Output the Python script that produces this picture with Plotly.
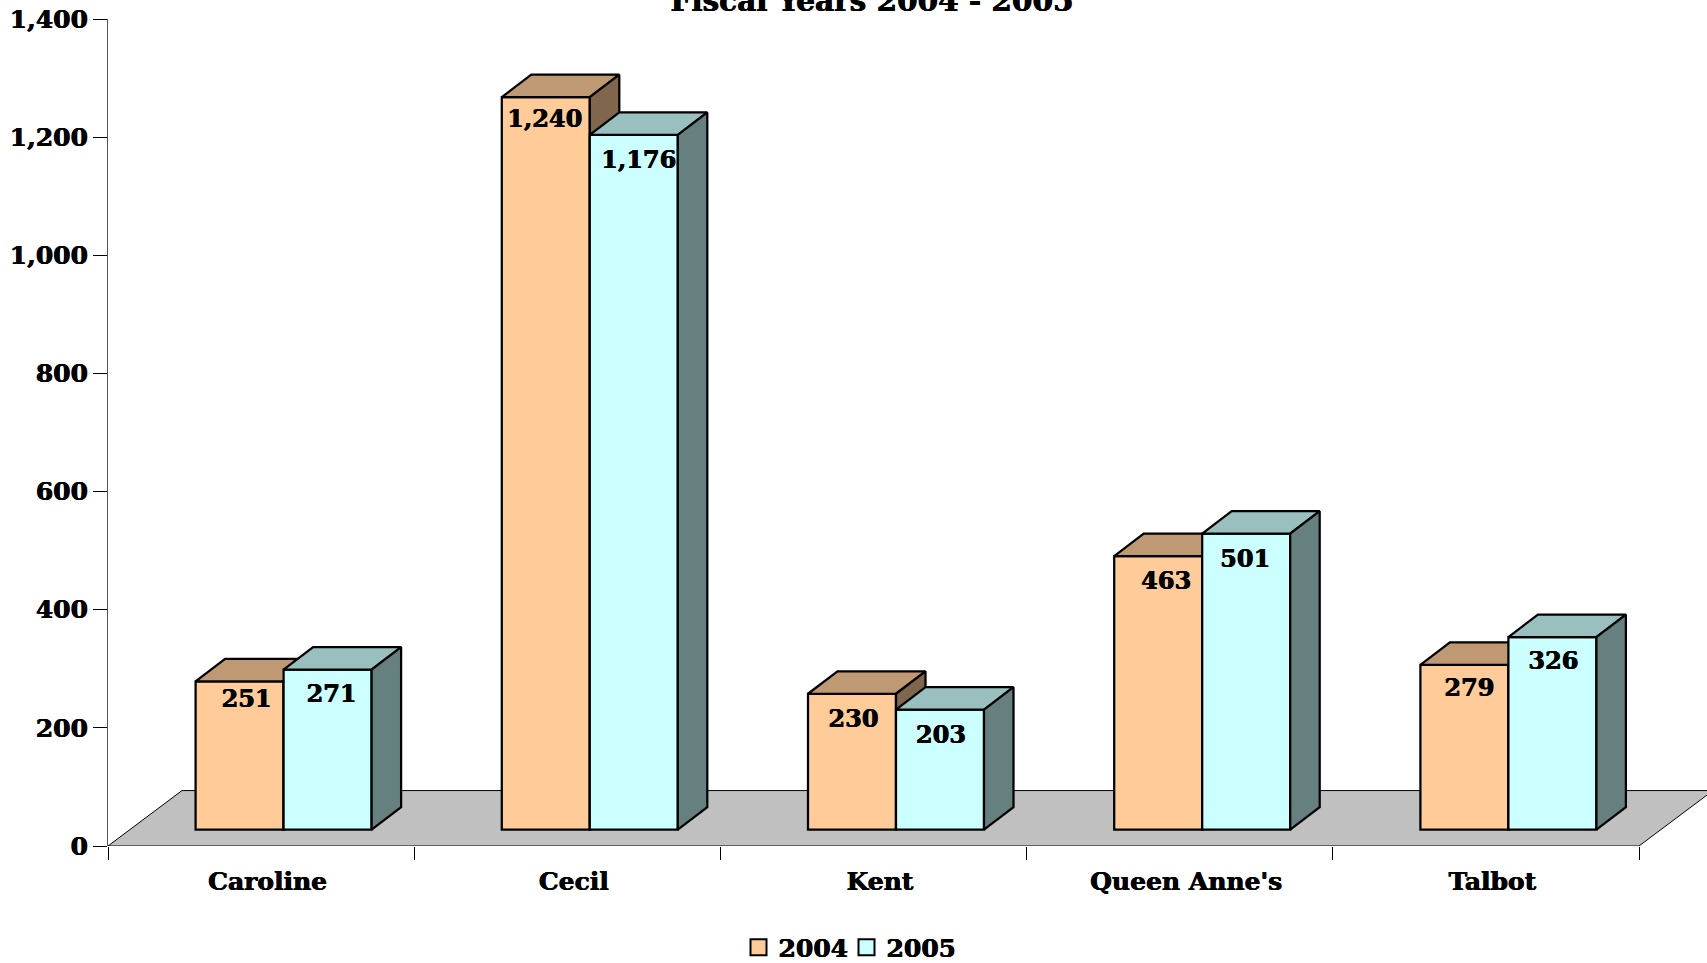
import plotly.graph_objects as go

categories = ["Caroline", "Cecil", "Kent", "Queen Anne's", "Talbot"]
series_names = ["2004", "2005"]
values_2004 = [251, 1240, 230, 463, 279]
values_2005 = [271, 1176, 203, 501, 326]
y_ticks = [0, 200, 400, 600, 800, 1000, 1200, 1400]
title_text = "Fiscal Years 2004 - 2005"

FONT = "DejaVu Serif"
FRONT = ["#FFCC99", "#CCFFFF"]
TOP = ["#BF9973", "#99BFBF"]
SIDE = ["#80664D", "#668080"]
HEAVY = "0.4px 0 0 #000, -0.4px 0 0 #000"

W, H = 1707, 963
L, R_PX, T, B = 108, 1639, 18.5, 846.5
ncat = len(categories)
cat_px = (R_PX - L) / ncat
unit_px = (B - T) / 1400
xr = (-0.5, -0.5 + (W - L) / cat_px)

dx = 29.5 / cat_px
dy = 22.5 / unit_px
floor_dx = 74 / cat_px
floor_dy = 55.5 / unit_px
bar_base = 16.4 / unit_px
bar_w = 88.0 / cat_px
group_shift = 22.5 / cat_px
label_shift = 6.5 / cat_px
edge = 2.25

fig = go.Figure()

label_nudge = [
    [(7, -20), (-1, -23.5), (1.5, -27), (8, -27), (5, -25)],
    [(4, -26), (5, -27), (1, -27), (-1, -27), (1, -26)],
]

for s, vals in enumerate([values_2004, values_2005]):
    xa = "x" if s == 0 else "x2"
    ya = "y" if s == 0 else "y2"
    centers = [i + group_shift + (s - 0.5) * bar_w for i in range(ncat)]
    fig.add_trace(go.Bar(
        x=centers, y=vals, base=bar_base, width=bar_w, name=series_names[s],
        marker=dict(color=FRONT[s], line=dict(color="#000000", width=edge)),
        xaxis=xa, yaxis=ya, hoverinfo="skip", showlegend=False,
    ))
    fig.add_trace(go.Scatter(
        x=[None], y=[None], mode="markers", name=series_names[s],
        marker=dict(symbol="square", size=16, color=FRONT[s], line=dict(color="#000000", width=2)),
        xaxis=xa, yaxis=ya, hoverinfo="skip", showlegend=True))
    for c, v in zip(centers, vals):
        x0, x1 = c - bar_w / 2, c + bar_w / 2
        y0, y1 = bar_base, bar_base + v
        fig.add_trace(go.Scatter(
            x=[x0, x0 + dx, x1 + dx, x1, x0], y=[y1, y1 + dy, y1 + dy, y1, y1],
            mode="lines", fill="toself", fillcolor=TOP[s],
            line=dict(color="#000000", width=edge), xaxis=xa, yaxis=ya,
            showlegend=False, hoverinfo="skip"))
        fig.add_trace(go.Scatter(
            x=[x1, x1 + dx, x1 + dx, x1, x1], y=[y0, y0 + dy, y1 + dy, y1, y0],
            mode="lines", fill="toself", fillcolor=SIDE[s],
            line=dict(color="#000000", width=edge), xaxis=xa, yaxis=ya,
            showlegend=False, hoverinfo="skip"))
    fig.add_trace(go.Scatter(
        x=[c + n[0] / cat_px for c, n in zip(centers, label_nudge[s])],
        y=[bar_base + v + n[1] / unit_px for v, n in zip(vals, label_nudge[s])],
        text=[f"{v:,}" for v in vals], mode="text", textposition="middle center",
        textfont=dict(family=FONT, size=24, color="#000000", weight="bold", shadow=HEAVY),
        xaxis=xa, yaxis=ya, showlegend=False, hoverinfo="skip"))

floor_x = [-0.5, ncat - 0.5, ncat - 0.5 + floor_dx, -0.5 + floor_dx]
floor_y = [0, 0, floor_dy, floor_dy]
fig.add_shape(type="path", xref="x", yref="y", layer="below",
              path="M " + " L ".join(f"{a},{b}" for a, b in zip(floor_x, floor_y)) + " Z",
              fillcolor="#C0C0C0", line=dict(color="#000000", width=1))

tick_font = dict(family=FONT, size=25, color="#000000", weight="bold", shadow=HEAVY)
fig.update_layout(
    width=W, height=H, autosize=False, paper_bgcolor="#FFFFFF", plot_bgcolor="#FFFFFF",
    margin=dict(l=L, r=0, t=T, b=H - B, autoexpand=False),
    barmode="overlay",
    font=dict(family=FONT, color="#000000"),
    title=dict(text=title_text, x=872 / W, xanchor="center", y=0.999, yanchor="middle",
               yref="container", font=dict(family=FONT, size=29.5, weight="bold", shadow=HEAVY)),
    xaxis=dict(range=xr, tickmode="array", tickvals=[i + label_shift for i in range(ncat)],
               ticktext=categories,
               ticks="outside", ticklen=13, tickcolor="rgba(0,0,0,0)", showgrid=False, zeroline=False,
               showline=False, tickfont=tick_font, fixedrange=True,
               minor=dict(tickmode="array", tickvals=[i - 0.5 for i in range(ncat + 1)],
                          ticks="outside", ticklen=13, tickcolor="#000000", tickwidth=1, showgrid=False)),
    yaxis=dict(range=[0, 1400], tickmode="array", tickvals=y_ticks,
               ticktext=[f"{t:,}" for t in y_ticks], ticks="outside", ticklen=14, tickwidth=1,
               tickcolor="#000000", showgrid=False, zeroline=False, showline=True,
               linecolor="#555555", linewidth=1, tickfont=tick_font, fixedrange=True),
    xaxis2=dict(range=xr, overlaying="x", visible=False, fixedrange=True),
    yaxis2=dict(range=[0, 1400], overlaying="y", visible=False, fixedrange=True),
    legend=dict(orientation="h", x=(846.5 - L) / (W - L), xanchor="center", y=0.016, yanchor="middle",
                yref="container", font=dict(family=FONT, size=25, weight="bold", shadow=HEAVY),
                entrywidth=63, entrywidthmode="pixels", traceorder="normal",
                itemsizing="trace", bgcolor="rgba(0,0,0,0)", itemclick=False, itemdoubleclick=False),
    showlegend=True,
)
fig.write_html("out.html", post_script="document.body.style.margin='0';",
               config=dict(displayModeBar=False))
